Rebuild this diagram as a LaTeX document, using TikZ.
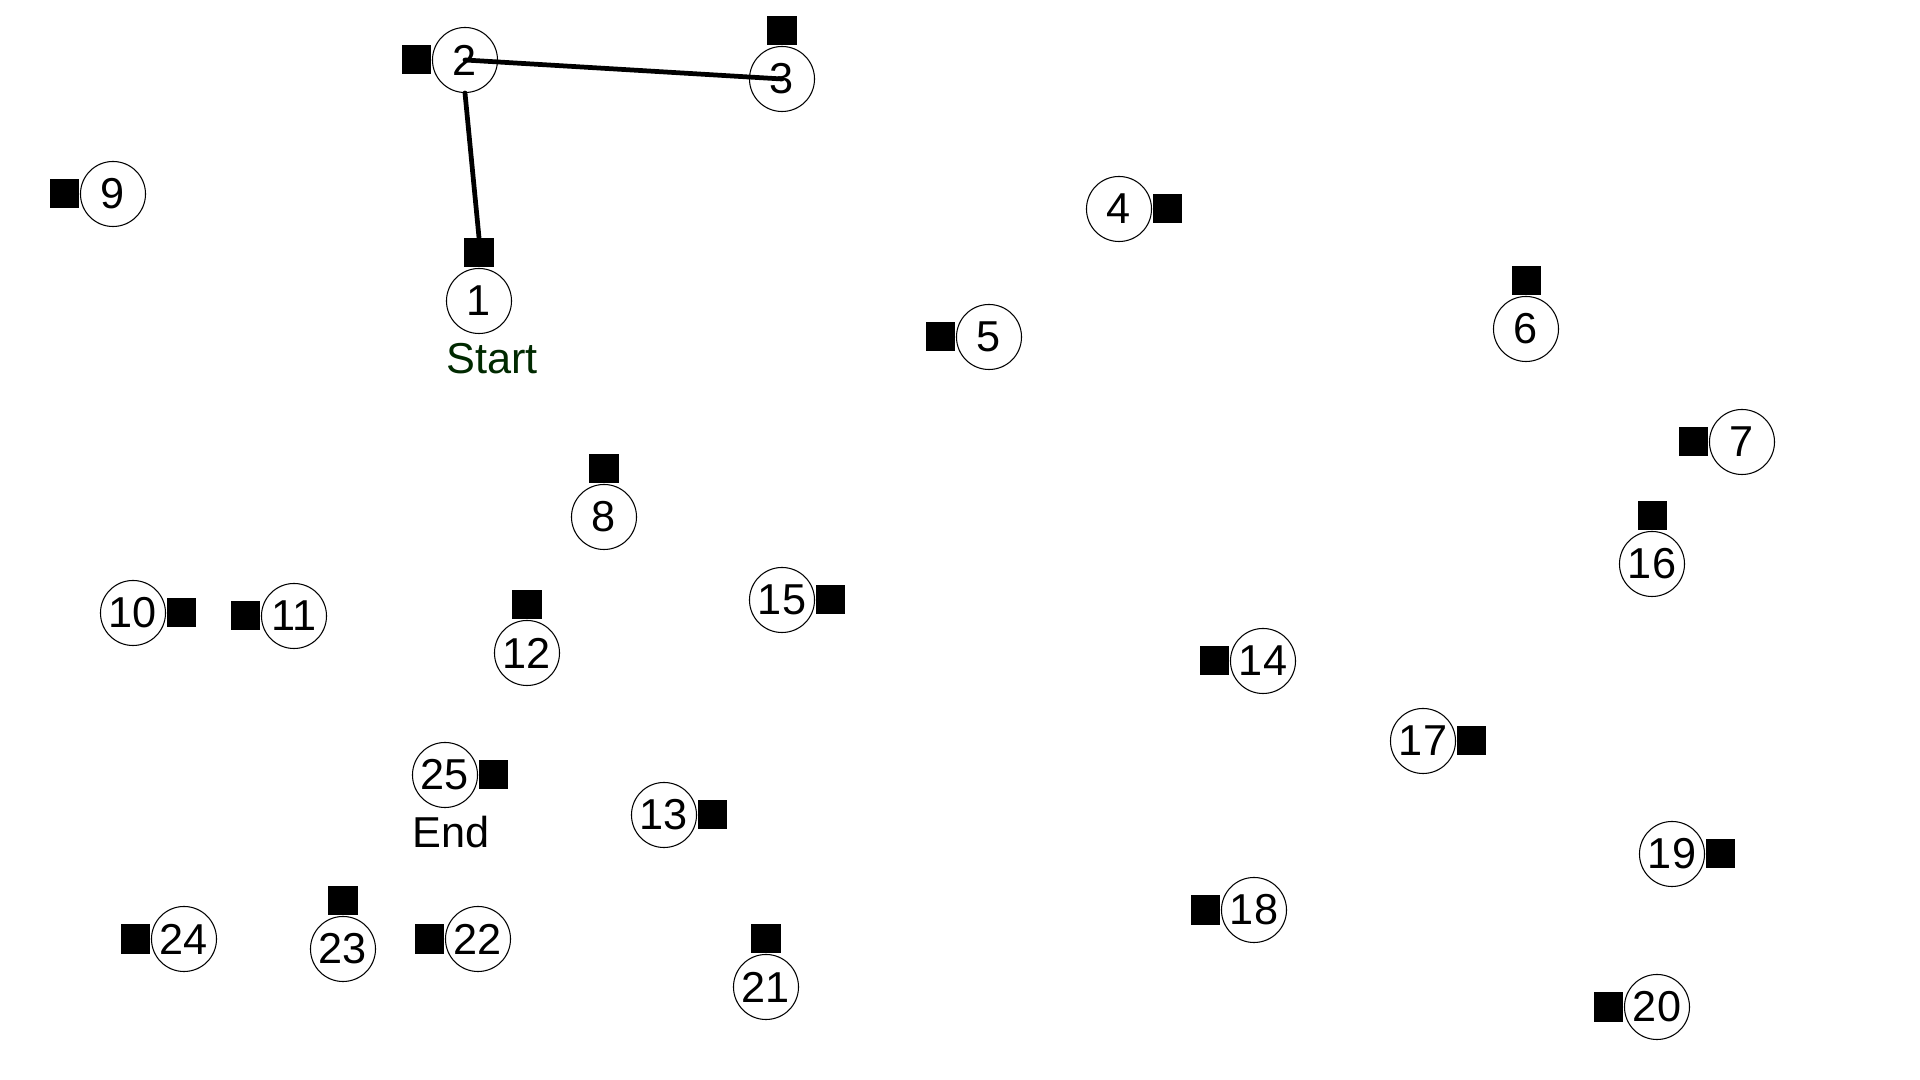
\documentclass[tikz,border=0pt]{standalone}
\usepackage{fontspec}
\setmainfont{Liberation Sans}
\usetikzlibrary{positioning}
\definecolor{startgreen}{rgb}{0,0.16,0}
\begin{document}
\begin{tikzpicture}[line cap=round,line join=round,x=0.01cm,y=-0.01cm,
  site/.style={circle,draw=black,line width=0.3pt,minimum size=0.65cm,inner sep=0pt,font=\fontsize{12.3}{14}\selectfont},
  box/.style={rectangle,fill=black,minimum size=0.29cm,inner sep=0pt},
  lbl/.style={inner sep=0pt,anchor=base west,font=\fontsize{12.3}{14}\selectfont},
  route/.style={line width=1.35pt}]
			\useasboundingbox (0,0) rectangle (1920,1080);
			\node[site] (n1) at (479,301) {1};
			\node[box,above=0pt of n1] (s1) {};
			\node[site] (n2) at (465,60) {2};
			\node[box,left=0pt of n2] (s2) {};
			\node[site] (n3) at (782,79) {3};
			\node[box,above=0pt of n3] (s3) {};
			\node[site] (n4) at (1119,209) {4};
			\node[box,right=0pt of n4] (s4) {};
			\node[site] (n5) at (989,337) {5};
			\node[box,left=0pt of n5] (s5) {};
			\node[site] (n6) at (1526,329) {6};
			\node[box,above=0pt of n6] (s6) {};
			\node[site] (n7) at (1742,442) {7};
			\node[box,left=0pt of n7] (s7) {};
			\node[site] (n8) at (604,517) {8};
			\node[box,above=0pt of n8] (s8) {};
			\node[site] (n9) at (113,194) {9};
			\node[box,left=0pt of n9] (s9) {};
			\node[site] (n10) at (133,613) {10};
			\node[box,right=0pt of n10] (s10) {};
			\node[site] (n11) at (294,616) {11};
			\node[box,left=0pt of n11] (s11) {};
			\node[site] (n12) at (527,653) {12};
			\node[box,above=0pt of n12] (s12) {};
			\node[site] (n13) at (664,815) {13};
			\node[box,right=0pt of n13] (s13) {};
			\node[site] (n14) at (1263,661) {14};
			\node[box,left=0pt of n14] (s14) {};
			\node[site] (n15) at (782,600) {15};
			\node[box,right=0pt of n15] (s15) {};
			\node[site] (n16) at (1652,564) {16};
			\node[box,above=0pt of n16] (s16) {};
			\node[site] (n17) at (1423,741) {17};
			\node[box,right=0pt of n17] (s17) {};
			\node[site] (n18) at (1254,910) {18};
			\node[box,left=0pt of n18] (s18) {};
			\node[site] (n19) at (1672,854) {19};
			\node[box,right=0pt of n19] (s19) {};
			\node[site] (n20) at (1657,1007) {20};
			\node[box,left=0pt of n20] (s20) {};
			\node[site] (n21) at (766,987) {21};
			\node[box,above=0pt of n21] (s21) {};
			\node[site] (n22) at (478,939) {22};
			\node[box,left=0pt of n22] (s22) {};
			\node[site] (n23) at (343,949) {23};
			\node[box,above=0pt of n23] (s23) {};
			\node[site] (n24) at (184,939) {24};
			\node[box,left=0pt of n24] (s24) {};
			\node[site] (n25) at (445,775) {25};
			\node[box,right=0pt of n25] (s25) {};
			\node[lbl,text=startgreen,yshift=-0.725cm] (start) at (n1.west) {Start};
			\node[lbl,yshift=-0.725cm] (end) at (n25.west) {End};
			\draw [route] (n2.center) -- (n3.center);
			\draw [route] (n2.south) -- (s1.north);
		\end{tikzpicture}
\end{document}
